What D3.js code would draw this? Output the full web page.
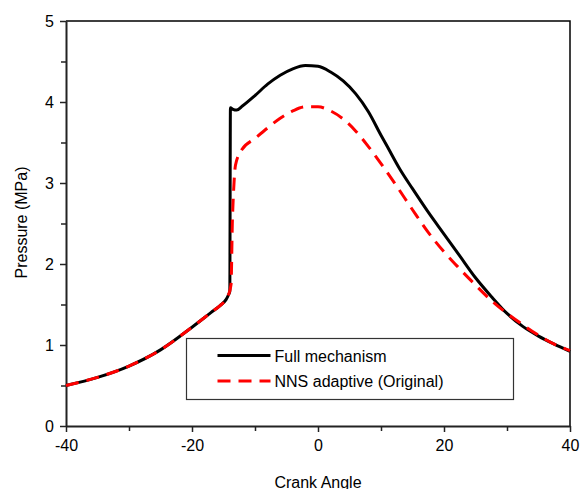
<!DOCTYPE html>
<html>
<head>
<meta charset="utf-8">
<script src="https://cdn.jsdelivr.net/npm/d3@7"></script>
<style>
  body { margin: 0; background: #fff; }
  text { font-family: "Liberation Sans", Arial, sans-serif; fill: #000; }
</style>
</head>
<body>
<div class="chart"></div>
<script>
// crank angle (deg) vs pressure (MPa)
const fullAngle = [-40, -35, -30, -25, -20, -17, -15.5, -14.6, -14.2, -14.0, -13.9, -13.5, -12.9, -12, -10, -8, -6, -4, -2, 0, 2, 4, 6, 8, 10, 11, 13, 15, 17.5, 20, 22.5, 25, 27.5, 30, 32.5, 35, 37.5, 40]
const fullPressure = [0.5, 0.6, 0.74, 0.94, 1.22, 1.40, 1.49, 1.56, 1.62, 1.66, 3.93, 3.91, 3.9, 3.95, 4.08, 4.22, 4.33, 4.41, 4.45, 4.44, 4.37, 4.26, 4.1, 3.88, 3.59, 3.45, 3.17, 2.93, 2.64, 2.37, 2.1, 1.83, 1.6, 1.39, 1.23, 1.11, 1.01, 0.92]

const nnsAngle = [-40, -35, -30, -25, -20, -17, -15.5, -14.6, -14.2, -13.8, -13.6, -13.4, -13.1, -12.1, -10, -8, -6, -4, -2, 0, 2, 4, 6, 8, 10, 12.5, 15, 17.5, 20, 22.5, 25, 27.5, 30, 32.5, 35, 37.5, 40]
const nnsPressure = [0.5, 0.6, 0.74, 0.94, 1.22, 1.40, 1.49, 1.56, 1.62, 1.75, 2.5, 2.9, 3.22, 3.41, 3.55, 3.68, 3.8, 3.89, 3.94, 3.94, 3.89, 3.79, 3.64, 3.45, 3.24, 2.96, 2.67, 2.39, 2.15, 1.94, 1.74, 1.55, 1.39, 1.25, 1.12, 1.01, 0.93]

const xTicks = [-40, -20, 0, 20, 40]
const xMinor = [-30, -10, 10, 30]
const yTicks = [0, 1, 2, 3, 4, 5]
const yMinor = [0.5, 1.5, 2.5, 3.5, 4.5]

const seriesNames = ["Full mechanism", "NNS adaptive (Original)"]

const W = 581, H = 489
const margin = ({top: 21, right: 11, bottom: 63, left: 66})
const width = W - margin.left - margin.right,
    height = H - margin.top - margin.bottom

const svg = d3.select(".chart").append("svg")
    .attr("width", W)
    .attr("height", H)
    .append("g")
    .attr("transform", "translate(" + margin.left + "," + margin.top + ")")

const xScale = d3.scaleLinear().domain([-40, 40]).range([0, width])
const yScale = d3.scaleLinear().domain([0, 5]).range([height, 0])

// frame top/right
svg.append("path")
    .attr("d", `M0,0H${width}V${height}`)
    .attr("fill", "none")
    .attr("stroke", "#000")
    .attr("stroke-width", 1.5)

const plain = d => String(d)

const xAxis = d3.axisBottom(xScale).tickValues(xTicks).tickSize(6).tickSizeOuter(0).tickPadding(4).tickFormat(plain)
const yAxis = d3.axisLeft(yScale).tickValues(yTicks).tickSize(6).tickSizeOuter(0).tickPadding(6).tickFormat(plain)

const gx = svg.append("g")
    .attr("class", "axis x-axis")
    .attr("transform", `translate(0, ${height})`)
    .call(xAxis)
gx.selectAll("text").attr("font-size", 16).attr("dy", "0.95em")

const gxm = svg.append("g")
    .attr("transform", `translate(0, ${height})`)
    .call(d3.axisBottom(xScale).tickValues(xMinor).tickSize(5).tickFormat(""))
gxm.select(".domain").remove()

const gy = svg.append("g")
    .attr("class", "axis y-axis")
    .call(yAxis)
gy.selectAll("text").attr("font-size", 16)

const gym = svg.append("g")
    .call(d3.axisLeft(yScale).tickValues(yMinor).tickSize(5).tickFormat(""))
gym.select(".domain").remove()

svg.selectAll(".domain").attr("stroke", "#222").attr("stroke-width", 2)
svg.selectAll(".tick line").attr("stroke", "#222").attr("stroke-width", 1.5)

svg.append("text")
    .attr("text-anchor", "middle")
    .attr("x", width / 2)
    .attr("y", height + 62)
    .attr("font-size", 16)
    .text("Crank Angle")

svg.append("text")
    .attr("text-anchor", "middle")
    .attr("transform", `translate(-39, ${height / 2 - 1}) rotate(-90)`)
    .attr("font-size", 16)
    .text("Pressure (MPa)")

const line = d3.line()
    .x(d => xScale(d[0]))
    .y(d => yScale(d[1]))
    .curve(d3.curveMonotoneX)

const fullData = fullAngle.map((a, i) => [a, fullPressure[i]])
const nnsData = nnsAngle.map((a, i) => [a, nnsPressure[i]])

svg.append("path")
    .datum(fullData)
    .attr("fill", "none")
    .attr("stroke", "black")
    .attr("stroke-width", 3)
    .attr("d", line)

svg.append("path")
    .datum(nnsData)
    .attr("fill", "none")
    .attr("stroke", "#ff0000")
    .attr("stroke-width", 3)
    .attr("stroke-dasharray", "13,8")
    .attr("d", line)

// legend
const lg = svg.append("g")
    .attr("transform", `translate(${186.5 - margin.left}, ${338.5 - margin.top})`)

lg.append("rect")
    .attr("width", 327)
    .attr("height", 61)
    .attr("fill", "white")
    .attr("stroke", "#333")
    .attr("stroke-width", 1.2)

const legendStyles = [
    {color: "black", dash: null},
    {color: "#ff0000", dash: "13,8"}
]

seriesNames.forEach((name, i) => {
    const y = 17 + i * 25.5
    lg.append("line")
        .attr("x1", 31).attr("x2", 84)
        .attr("y1", y).attr("y2", y)
        .attr("stroke", legendStyles[i].color)
        .attr("stroke-width", 3)
        .attr("stroke-dasharray", legendStyles[i].dash)
    lg.append("text")
        .attr("x", 88)
        .attr("y", y + 6)
        .attr("font-size", 16)
        .text(name)
})
</script>
</body>
</html>
